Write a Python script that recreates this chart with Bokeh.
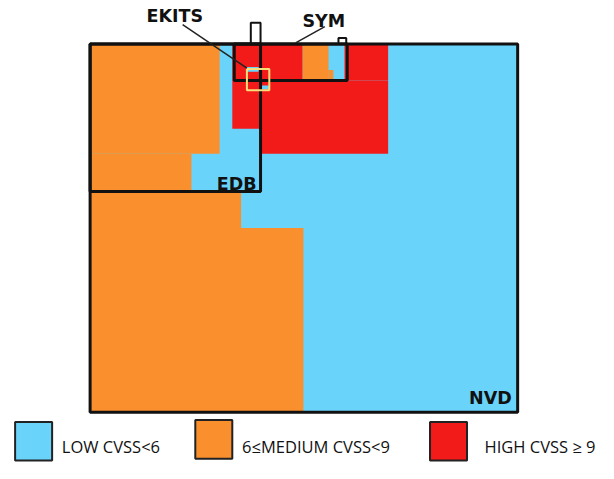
from bokeh.plotting import figure
from bokeh.models import Range1d
from bokeh.core.properties import value
from bokeh.embed import file_html
from bokeh.resources import INLINE

BLUE = "#69D3FA"
ORANGE = "#FA8F2D"
RED = "#F31A1A"

# Diagram units (y grows downward). NVD box spans 92..531 x 45..427
nvd_box = dict(left=[92], right=[531], top=[45], bottom=[427])

# Orange (medium) regions
orange_left = [92, 92, 92, 92, 242, 310, 337, 253, 253]
orange_right = [225, 196, 247, 311, 251, 337, 342, 276, 265]
orange_top = [45, 159, 198, 236, 47, 45, 72, 79, 85]
orange_bottom = [159, 198, 236, 427, 61, 83, 83, 81, 87]

# Red (high) regions
red_left = [238, 267, 353, 267]
red_right = [267, 310, 398, 398]
red_top = [45, 45, 45, 83]
red_bottom = [133, 83, 83, 159]

# Blue (low) patches on top of red
blue_left = [337, 342, 253, 268]
blue_right = [353, 353, 265, 276]
blue_top = [45, 72, 69, 88]
blue_bottom = [72, 83, 74, 92]

# Database boxes
box_names = ["NVD", "EDB", "SYM"]
box_left = [92, 92, 240]
box_right = [531, 267, 356]
box_top = [45, 45, 45]
box_bottom = [427, 198, 83]

# parts outside NVD
out_left = [257, 347]
out_right = [267, 355]
out_top = [23, 39]
out_bottom = [45, 45]

ekits_box = dict(left=[253], right=[276], top=[71], bottom=[93])

# labels
label_text = ["EKITS", "SYM", "EDB", "NVD"]
label_x = [150, 310, 263, 525]
label_y = [16, 21, 190, 412]
label_align = ["left", "left", "right", "right"]

leader_xs = [[187, 253], [333, 303]]
leader_ys = [[25, 70], [27, 44]]

legend_labels = ["LOW CVSS<6", "6\u2264MEDIUM CVSS<9", "HIGH CVSS \u2265 9"]
legend_colors = [BLUE, ORANGE, RED]
legend_left = [15, 200, 441]
legend_right = [53, 238, 479]
legend_top = [437, 435, 437]
legend_bottom = [477, 475, 477]
legend_text_x = [63, 248, 497]
legend_text_y = [462, 462, 462]

p = figure(width=598, height=462, output_backend="svg", toolbar_location=None,
           x_range=Range1d(0, 614), y_range=Range1d(479, 0), min_border=0)
p.axis.visible = False
p.grid.visible = False
p.outline_line_color = None
p.background_fill_color = "white"

# base blue
p.quad(**nvd_box, fill_color=BLUE, line_color=None)
p.quad(left=orange_left, right=orange_right, top=orange_top, bottom=orange_bottom,
       fill_color=ORANGE, line_color=None)
p.quad(left=red_left, right=red_right, top=red_top, bottom=red_bottom,
       fill_color=RED, line_color=None)
p.quad(left=blue_left, right=blue_right, top=blue_top, bottom=blue_bottom,
       fill_color=BLUE, line_color=None)

# outside boxes
p.quad(left=out_left, right=out_right, top=out_top, bottom=out_bottom,
       fill_color="white", line_color="#111111", line_width=2)

# database outlines
p.quad(left=box_left, right=box_right, top=box_top, bottom=box_bottom,
       fill_color=None, line_color="#111111", line_width=3)

p.quad(**ekits_box, fill_color=None, line_color="#F7E07A", line_width=2)

p.multi_line(xs=leader_xs, ys=leader_ys, line_color="#222222", line_width=1.5)

for t, x, y, a in zip(label_text, label_x, label_y, label_align):
    p.text(x=[x], y=[y], text=[t], text_align=a, text_baseline="middle",
           text_font=value("DejaVu Sans"), text_font_style="bold",
           text_font_size="17.5px", text_color="#111111")

p.quad(left=legend_left, right=legend_right, top=legend_top, bottom=legend_bottom,
       fill_color=legend_colors, line_color="#222222", line_width=2)
p.text(x=legend_text_x, y=legend_text_y, text=legend_labels, text_align="left",
       text_baseline="middle", text_font=value("Open Sans"), text_font_size="16.5px",
       text_color="#111111")

open("out.html", "w").write(file_html(p, INLINE))
